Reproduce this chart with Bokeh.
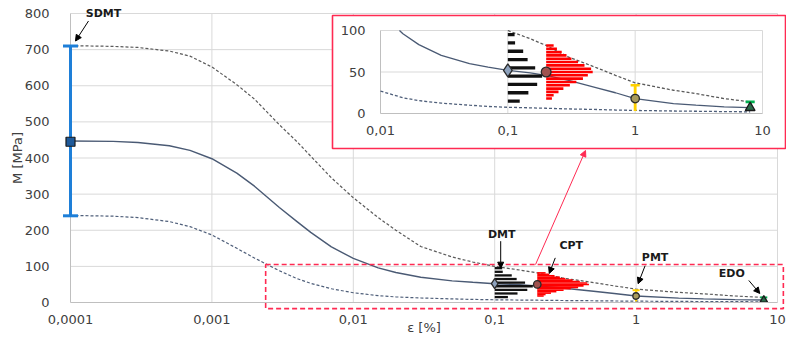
import numpy as np
from bokeh.plotting import figure
from bokeh.models import (Range1d, LogScale, LinearScale, FixedTicker, CustomJSTickFormatter,
                          Label, Arrow, NormalHead, BoxAnnotation)
from bokeh.core.properties import value
from bokeh.embed import file_html
from bokeh.resources import INLINE

# ---------------- data ----------------
strain = [1e-4, 2e-4, 3e-4, 5e-4, 7e-4, 1e-3, 1.5e-3, 2e-3, 3e-3, 4e-3, 5e-3, 7e-3,
          1e-2, 1.5e-2, 2e-2, 3e-2, 5e-2, 7e-2, 0.1, 0.15, 0.2, 0.3, 0.5, 0.7,
          1, 2, 3, 5, 8]
m_upper = [711, 709, 706, 696, 682, 652, 603, 563, 492, 445, 405, 345,
           290, 235, 200, 155, 126, 112, 100, 90, 82, 68, 55, 46,
           37, 28, 24, 18, 14]
m_mid = [447, 446, 443, 434, 421, 398, 358, 322, 263, 224, 194, 154,
         122, 96, 83, 70, 60, 56, 52, 49, 46, 40, 31, 25,
         18, 12, 10, 8, 7]
m_lower = [241, 239, 235, 224, 210, 187, 150, 123, 88, 66, 53, 38,
           27, 19, 15.5, 12.5, 10, 8.5, 7.5, 6.8, 6.3, 5.5, 4.8, 4.2,
           3.7, 3, 2.7, 2.3, 2]

x_ticks = [1e-4, 1e-3, 1e-2, 1e-1, 1, 10]
x_tick_labels = ["0,0001", "0,001", "0,01", "0,1", "1", "10"]
y_ticks = [0, 100, 200, 300, 400, 500, 600, 700, 800]
y_tick_labels = ["0", "100", "200", "300", "400", "500", "600", "700", "800"]

inset_x_ticks = [0.01, 0.1, 1, 10]
inset_x_labels = ["0,01", "0,1", "1", "10"]
inset_y_ticks = [0, 50, 100]
inset_y_labels = ["0", "50", "100"]

sdmt_eps, sdmt_m, sdmt_lo, sdmt_hi = 1e-4, 445, 240, 710
dmt_eps, dmt_m = 0.1, 52
dmt_bins = [95, 85, 75, 65, 55, 45, 35, 25, 15]
dmt_ends = [0.113, 0.114, 0.132, 0.143, 0.164, 0.186, 0.170, 0.145, 0.124]
cpt_eps, cpt_m = 0.2, 50
cpt_bins = [82, 78, 74, 70, 66, 62, 58, 54, 50, 46, 42, 38, 34, 30, 26, 22, 18]
cpt_ends = [0.229, 0.243, 0.265, 0.289, 0.316, 0.356, 0.400, 0.451, 0.464,
            0.425, 0.389, 0.345, 0.307, 0.273, 0.250, 0.229, 0.222]
pmt_eps, pmt_m, pmt_lo, pmt_hi = 1.0, 18, 3, 34
edo_eps, edo_m, edo_lo, edo_hi = 8.0, 7, 6, 14

zoom_eps = (2.4e-3, 11)
zoom_m = (-17, 105)

# ---------------- geometry (canvas pixels) ----------------
W, H = 786, 338
FX0, FX1, FY0, FY1 = 70, 777, 13, 302           # where 1e-4 / 10 and 800 / 0 sit
DEC_PX = (FX1 - FX0) / 5.0
PX_PER_M = (FY1 - FY0) / 800.0
IX0, IX1, IY0, IY1 = 380, 762, 113, 30           # inset plot area (0.01..10, 0..100)
I_DEC = (IX1 - IX0) / 3.0
I_PPM = (IY0 - IY1) / 100.0
BOX = dict(l=332, r=785, t=15, b=148)            # inset frame

def main_x(px):
    return 10 ** (-4 + (px - FX0) / DEC_PX)

def main_y(py):
    return (FY1 - py) / PX_PER_M

def inset_x(px):
    return 10 ** (-2 + (px - IX0) / I_DEC)

def inset_y(py):
    return (IY0 - py) / I_PPM

def moff(eps, m, dx, dy):
    """data point shifted by screen pixels (dy positive = down) in main coords"""
    return eps * 10 ** (dx / DEC_PX), m - dy / PX_PER_M

RED = "#ff2a52"
TXT = "#404040"
GRID = "#d9d9d9"
AXC = "#bfbfbf"
FONT = "DejaVu Sans"

p = figure(width=W, height=H, x_axis_type="log",
           x_range=Range1d(main_x(0), main_x(W)),
           y_range=Range1d(main_y(H), main_y(0)),
           output_backend="svg", toolbar_location=None,
           min_border_left=0, min_border_right=0, min_border_top=0, min_border_bottom=0)
p.outline_line_color = None
p.background_fill_color = "white"
p.border_fill_color = "white"
p.grid.visible = False

fmt_code = """
const i = tt.findIndex(t => Math.abs(t - tick) <= 1e-9 * Math.max(1e-6, Math.abs(t)));
return i < 0 ? '' : ll[i];
"""
p.xaxis.ticker = FixedTicker(ticks=x_ticks)
p.xaxis.formatter = CustomJSTickFormatter(args=dict(tt=x_ticks, ll=x_tick_labels), code=fmt_code)
p.yaxis.ticker = FixedTicker(ticks=y_ticks)
p.yaxis.formatter = CustomJSTickFormatter(args=dict(tt=y_ticks, ll=y_tick_labels), code=fmt_code)
p.xaxis.fixed_location = y_ticks[0]
p.yaxis.fixed_location = x_ticks[0]
p.xaxis.bounds = (x_ticks[0], x_ticks[-1])
p.yaxis.bounds = (y_ticks[0], y_ticks[-1])
for ax in (p.xaxis[0], p.yaxis[0]):
    ax.major_tick_line_color = None
    ax.minor_tick_line_color = None
    ax.axis_line_color = AXC
    ax.major_label_text_font = FONT
    ax.major_label_text_font_size = "13px"
    ax.major_label_text_color = TXT
    ax.axis_label_text_font = FONT
    ax.axis_label_text_font_size = "13px"
    ax.axis_label_text_font_style = "normal"
    ax.axis_label_text_color = TXT
p.xaxis.axis_label = "ε [%]"
p.yaxis.axis_label = "M [MPa]"
p.xaxis.major_label_standoff = 6
p.xaxis.axis_label_standoff = -7
p.yaxis.major_label_standoff = 15
p.yaxis.axis_label_standoff = -3

# main grid
p.segment(x0=[x_ticks[0]] * (len(y_ticks) - 1), y0=y_ticks[1:], x1=[x_ticks[-1]] * (len(y_ticks) - 1), y1=y_ticks[1:],
          line_color=GRID, line_width=1, level="underlay")
p.segment(x0=x_ticks[1:], y0=[y_ticks[0]] * (len(x_ticks) - 1), x1=x_ticks[1:], y1=[y_ticks[-1]] * (len(x_ticks) - 1),
          line_color=GRID, line_width=1, level="underlay")

# ---------------- main curves ----------------
C_UP, C_MID, C_LOW = "#5a5a5a", "#4a5a74", "#4f5f7a"
p.line(strain, m_upper, line_color=C_UP, line_dash="3 2", line_width=1.2)
p.line(strain, m_mid, line_color=C_MID, line_width=1.4)
p.line(strain, m_lower, line_color=C_LOW, line_dash="3 2", line_width=1.2)

def draw_tests(xr=None, yr=None, big=False):
    kw = {}
    if xr:
        kw = dict(x_range_name=xr, y_range_name=yr)
    s = 1.3 if big else 1.0
    # DMT histogram
    p.segment(x0=[dmt_eps] * len(dmt_bins), y0=dmt_bins, x1=dmt_ends, y1=dmt_bins,
              line_color="#111111", line_width=3.3 if big else 2.3, **kw)
    # CPT histogram
    p.segment(x0=[cpt_eps] * len(cpt_bins), y0=cpt_bins, x1=cpt_ends, y1=cpt_bins,
              line_color="#ff0000", line_width=2.6 if big else 1.6, **kw)
    # PMT
    p.segment(x0=[pmt_eps], y0=[pmt_lo], x1=[pmt_eps], y1=[pmt_hi],
              line_color="#ffd000", line_width=2.2 * s, **kw)
    p.scatter([pmt_eps], [pmt_hi], marker="dash", size=7 * s, line_color="#ffd000", line_width=2 * s, **kw)
    # EDO
    p.segment(x0=[edo_eps], y0=[edo_lo], x1=[edo_eps], y1=[edo_hi],
              line_color="#00b050", line_width=2 * s, **kw)
    p.scatter([edo_eps], [edo_hi], marker="dash", size=7 * s, line_color="#00b050", line_width=2 * s, **kw)
    # markers
    p.scatter([dmt_eps], [dmt_m], marker="diamond", size=10 * s, fill_color="#8ea2bd", line_color="#2a2a2a", line_width=1.3, **kw)
    p.scatter([cpt_eps], [cpt_m], marker="circle", size=7.5 * s, fill_color="#a0524f", line_color="#2a2a2a", line_width=1.3, **kw)
    p.scatter([pmt_eps], [pmt_m], marker="circle", size=6.5 * s, fill_color="#a89a5a", line_color="#2a2a2a", line_width=1.3, **kw)
    p.scatter([edo_eps], [edo_m], marker="triangle", size=7.5 * s, fill_color="#2a6a4a", line_color="#1a1a1a", line_width=1.3, **kw)

draw_tests()

# SDMT
p.segment(x0=[sdmt_eps], y0=[sdmt_lo], x1=[sdmt_eps], y1=[sdmt_hi], line_color="#1e7fd8", line_width=3, level="overlay")
p.scatter([sdmt_eps, sdmt_eps], [sdmt_lo, sdmt_hi], marker="dash", size=15, line_color="#1e7fd8", line_width=3, level="overlay")
p.scatter([sdmt_eps], [sdmt_m], marker="square", size=9, fill_color="#1f5a9a", line_color="#1a1a1a", line_width=1.2, level="overlay")

# zoom region
p.add_layout(BoxAnnotation(left=zoom_eps[0], right=zoom_eps[1], bottom=zoom_m[0], top=zoom_m[1],
                           fill_alpha=0, line_color=RED, line_alpha=1.0, line_width=1.6, line_dash="5 3"))

# ---------------- inset ----------------
p.extra_x_ranges = {"ix": Range1d(inset_x(0), inset_x(W))}
p.extra_x_scales = {"ix": LogScale()}
p.extra_y_ranges = {"iy": Range1d(inset_y(H), inset_y(0))}
p.extra_y_scales = {"iy": LinearScale()}
IK = dict(x_range_name="ix", y_range_name="iy")

p.quad(left=[inset_x(BOX["l"])], right=[inset_x(BOX["r"])], top=[inset_y(BOX["t"])], bottom=[inset_y(BOX["b"])],
       fill_color="white", line_color=RED, line_width=1.6, **IK)

ix_lo, ix_hi = inset_x_ticks[0], inset_x_ticks[-1]
iy_lo, iy_hi = inset_y_ticks[0], inset_y_ticks[-1]
# grid
p.segment(x0=[ix_lo] * 2, y0=inset_y_ticks[1:], x1=[ix_hi] * 2, y1=inset_y_ticks[1:],
          line_color=GRID, line_width=1, **IK)
p.segment(x0=inset_x_ticks[1:], y0=[iy_lo] * 3, x1=inset_x_ticks[1:], y1=[iy_hi] * 3,
          line_color=GRID, line_width=1, **IK)
# axes lines
p.segment(x0=[ix_lo, ix_lo], y0=[iy_lo, iy_lo], x1=[ix_lo, ix_hi], y1=[iy_hi, iy_lo],
          line_color=AXC, line_width=1, **IK)
p.text(x=inset_x_ticks, y=[iy_lo] * len(inset_x_ticks), text=inset_x_labels,
       text_align="center", text_baseline="top", y_offset=12,
       text_font=value(FONT), text_font_size="13px", text_color=TXT, **IK)
p.text(x=[ix_lo] * len(inset_y_ticks), y=inset_y_ticks, text=inset_y_labels,
       text_align="right", text_baseline="middle", x_offset=-15,
       text_font=value(FONT), text_font_size="13px", text_color=TXT, **IK)

def clip_curve(xs, ys, x0, x1, y0, y1):
    lx = [np.log10(v) for v in xs]
    a0, a1 = np.log10(x0), np.log10(x1)
    ox, oy = [], []
    for i in range(len(lx) - 1):
        ax_, ay_, bx_, by_ = lx[i], ys[i], lx[i + 1], ys[i + 1]
        dx, dy = bx_ - ax_, by_ - ay_
        t0, t1, ok = 0.0, 1.0, True
        for pp, qq in ((-dx, ax_ - a0), (dx, a1 - ax_), (-dy, ay_ - y0), (dy, y1 - ay_)):
            if pp == 0:
                if qq < 0:
                    ok = False
                    break
            else:
                r = qq / pp
                if pp < 0:
                    t0 = max(t0, r)
                else:
                    t1 = min(t1, r)
        if not ok or t0 > t1:
            continue
        sx, sy = ax_ + t0 * dx, ay_ + t0 * dy
        ex, ey = ax_ + t1 * dx, ay_ + t1 * dy
        if not ox or abs(ox[-1] - sx) > 1e-12 or abs(oy[-1] - sy) > 1e-9:
            ox.append(sx)
            oy.append(sy)
        ox.append(ex)
        oy.append(ey)
    return [10 ** v for v in ox], oy

for ys, col, dash in ((m_upper, C_UP, "3 2"), (m_mid, C_MID, "solid"), (m_lower, C_LOW, "3 2")):
    cx, cy = clip_curve(strain, ys, ix_lo, ix_hi, -1, iy_hi)
    p.line(cx, cy, line_color=col, line_dash=dash, line_width=1.3, **IK)

draw_tests("ix", "iy", big=True)

# arrow from zoom region to inset
p.add_layout(Arrow(end=NormalHead(size=6, fill_color=RED, line_color=RED),
                   x_start=main_x(535), y_start=zoom_m[1], x_end=main_x(585), y_end=main_y(BOX["b"] + 2),
                   line_color=RED, line_width=1))

# ---------------- annotations ----------------
def annotate(text, eps, m, tip, start, lab):
    tx, ty = moff(eps, m, *tip)
    sx, sy = moff(eps, m, *start)
    lx, ly = moff(eps, m, *lab)
    p.add_layout(Arrow(end=NormalHead(size=6, fill_color="black", line_color="black"),
                       x_start=sx, y_start=sy, x_end=tx, y_end=ty, line_color="black", line_width=1))
    p.add_layout(Label(x=lx, y=ly, text=text, text_align="center", text_baseline="middle",
                       text_font=FONT, text_font_size="11px", text_font_style="bold",
                       text_color="#1a1a1a"))

annotate("SDMT", sdmt_eps, sdmt_hi, (5, -5), (18, -25), (33, -33))
annotate("DMT", dmt_eps, dmt_bins[0], (6, 0), (6, -27), (7, -34))
annotate("CPT", cpt_eps, cpt_bins[0], (12, 0.5), (18, -15), (34, -27))
annotate("PMT", pmt_eps, pmt_hi, (2, -6.5), (9, -24.5), (19, -32.5))
annotate("EDO", edo_eps, edo_hi, (-4, -4), (-15, -17), (-32, -24))

open("out.html", "w").write(file_html(p, INLINE))
